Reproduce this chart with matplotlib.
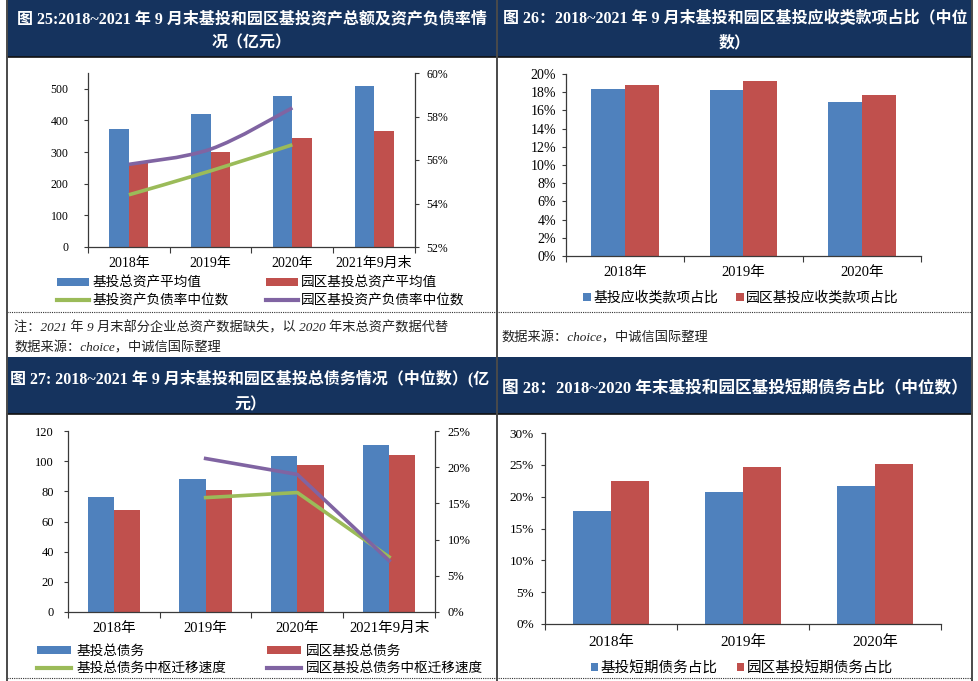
"""Four-panel report page: 基投 vs 园区基投 assets, receivables, debt, short-term debt."""

import numpy as np
import matplotlib

matplotlib.use("Agg")
import matplotlib.pyplot as plt
from matplotlib.patches import Rectangle, Patch, PathPatch
from matplotlib.lines import Line2D
from matplotlib.path import Path
from matplotlib.ticker import FuncFormatter, MultipleLocator

W, H = 979, 681
plt.rcParams["font.family"] = ["Liberation Serif", "Noto Sans CJK SC"]
plt.rcParams["axes.unicode_minus"] = False

NAVY = "#15335E"
BLUE = "#4F81BD"
RED = "#C0504D"
GREEN = "#9BBB59"
PURPLE = "#8064A2"
SPINE = "#3a3a3a"

# ---- data ----
YEARS4 = ["2018年", "2019年", "2020年", "2021年9月末"]
YEARS3 = ["2018年", "2019年", "2020年"]

# fig 25: total assets (亿元) and leverage median (%)
ASSET_JT = [372, 420, 478, 509]
ASSET_YQ = [264, 299, 345, 367]
LEV_JT = [54.4, 55.5, 56.7]
LEV_YQ = [55.8, 56.5, 58.4]

# fig 26: receivables share (%)
RECV_JT = [18.3, 18.2, 16.9]
RECV_YQ = [18.8, 19.2, 17.7]

# fig 27: total debt median (亿元) and median shift speed (%), 2019..2021
DEBT_JT = [76.2, 88.5, 103.3, 111.0]
DEBT_YQ = [67.5, 81.0, 97.3, 104.0]
SPEED_JT = [15.8, 16.5, 7.6]
SPEED_YQ = [21.2, 19.0, 7.1]

# fig 28: short-term debt share (%)
SHORT_JT = [17.7, 20.7, 21.7]
SHORT_YQ = [22.5, 24.7, 25.2]

PCT = FuncFormatter(lambda v, _: f"{v:.0f}%")


def rect(x0, y0, x1, y1):
    """pixel box (top-left origin) -> figure fraction rect"""
    return [x0 / W, 1 - y1 / H, (x1 - x0) / W, (y1 - y0) / H]


def anchor(x, y):
    return (x / W, 1 - y / H)


def smooth_path(xs, ys):
    """Catmull-Rom style Bezier through the points (like Excel smoothed lines)."""
    pts = np.column_stack([xs, ys]).astype(float)
    ext = np.vstack([pts[0], pts, pts[-1]])
    verts, codes = [pts[0]], [Path.MOVETO]
    for i in range(len(pts) - 1):
        p0, p1, p2, p3 = ext[i], ext[i + 1], ext[i + 2], ext[i + 3]
        verts += [p1 + (p2 - p0) / 6, p2 - (p3 - p1) / 6, p2]
        codes += [Path.CURVE4] * 3
    return Path(verts, codes)


def base_axes(fig, box, labels, xfs, xpad, ypad):
    ax = fig.add_axes(rect(*box), zorder=2)
    ax.set_facecolor("none")
    n = len(labels)
    ax.set_xlim(-0.5, n - 0.5)
    ax.set_xticks(np.arange(n + 1) - 0.5)
    ax.set_xticklabels([])
    ax.set_xticks(np.arange(n), minor=True)
    ax.set_xticklabels(labels, minor=True, fontsize=xfs)
    ax.tick_params(axis="x", which="major", direction="out", length=4,
                   width=0.8, color=SPINE)
    ax.tick_params(axis="x", which="minor", length=0, pad=xpad)
    ax.tick_params(axis="y", direction="out", length=3, width=0.8,
                   color=SPINE, pad=ypad)
    for s in ("top", "right"):
        ax.spines[s].set_visible(False)
    for s in ("left", "bottom"):
        ax.spines[s].set_color(SPINE)
        ax.spines[s].set_linewidth(0.9)
    return ax


def bars(ax, a, b, w):
    x = np.arange(len(a))
    ax.bar(x - w / 2, a, w, color=BLUE, linewidth=0)
    ax.bar(x + w / 2, b, w, color=RED, linewidth=0)


def twin(ax, ypad):
    ax2 = ax.twinx()
    ax2.set_zorder(3)
    ax2.set_facecolor("none")
    for s in ("top", "left", "bottom"):
        ax2.spines[s].set_visible(False)
    ax2.spines["right"].set_color(SPINE)
    ax2.spines["right"].set_linewidth(0.9)
    ax2.tick_params(axis="y", direction="out", length=3, width=0.8,
                    color=SPINE, pad=ypad)
    ax2.yaxis.set_major_formatter(PCT)
    return ax2


fig = plt.figure(figsize=(W / 100, H / 100), dpi=100)
fig.patch.set_facecolor("white")

# ---- page frame, title bars and notes ----
bg = fig.add_axes([0, 0, 1, 1], zorder=0)
bg.set_xlim(0, W)
bg.set_ylim(H, 0)
bg.axis("off")
for x0, x1 in [(7, 497), (497, 972)]:
    bg.add_patch(Rectangle((x0, 0), x1 - x0, 57, color=NAVY, lw=0))
    bg.add_patch(Rectangle((x0, 357), x1 - x0, 57, color=NAVY, lw=0))
for y in (57, 414):
    bg.plot([7, 972], [y, y], color="#111111", lw=1.2)
for y in (312, 678):
    bg.plot([7, 972], [y, y], color="#333333", lw=0.8, ls=(0, (1, 1)))
for x in (7, 497, 972):
    bg.plot([x, x], [0, H], color="#4a4a4a", lw=1.4)

title_kw = dict(color="white", fontsize=11.5, fontweight="bold",
                ha="center", va="center")
bg.text(252, 19, "图 25:2018~2021 年 9 月末基投和园区基投资产总额及资产负债率情",
        **title_kw)
bg.text(252, 43, "况（亿元）", **title_kw)
bg.text(735, 19, "图 26：2018~2021 年 9 月末基投和园区基投应收类款项占比（中位",
        **title_kw)
bg.text(735, 43, "数）", **title_kw)
bg.text(250, 379, "图 27: 2018~2021 年 9 月末基投和园区基投总债务情况（中位数）(亿",
        **title_kw)
bg.text(250, 405, "元）", **title_kw)
bg.text(735, 389, "图 28：2018~2020 年末基投和园区基投短期债务占比（中位数）",
        **dict(title_kw, fontsize=12))

note_kw = dict(color="#222222", fontsize=9.5, fontstyle="italic",
               ha="left", va="center")
bg.text(14, 328, "注：2021 年 9 月末部分企业总资产数据缺失，以 2020 年末总资产数据代替",
        **note_kw)
bg.text(14, 348, "数据来源：choice，中诚信国际整理", **note_kw)
bg.text(501, 338, "数据来源：choice，中诚信国际整理", **note_kw)

# ---- fig 25 ----
ax = base_axes(fig, (88, 73, 415, 247), YEARS4, 10, 7, 11)
bars(ax, ASSET_JT, ASSET_YQ, 0.24)
ax.set_ylim(0, 550)
ax.yaxis.set_major_locator(MultipleLocator(100))
ax.tick_params(axis="y", labelsize=8.5)
ax2 = twin(ax, 5)
ax2.set_ylim(52, 60)
ax2.yaxis.set_major_locator(MultipleLocator(2))
ax2.tick_params(axis="y", labelsize=8.5)
for vals, c in [(LEV_JT, GREEN), (LEV_YQ, PURPLE)]:
    ax2.add_patch(PathPatch(smooth_path(np.arange(len(vals)), vals),
                            fill=False, edgecolor=c, lw=2.6))
handles = [Patch(facecolor=BLUE), Line2D([], [], color=GREEN, lw=3),
           Patch(facecolor=RED), Line2D([], [], color=PURPLE, lw=3)]
labels = ["基投总资产平均值", "基投资产负债率中位数",
          "园区基投总资产平均值", "园区基投资产负债率中位数"]
fig.legend(handles, labels, ncol=2, loc="center", bbox_to_anchor=anchor(261, 292),
           frameon=False, fontsize=9.8, handlelength=2.35, handleheight=0.5,
           handletextpad=0.25, columnspacing=2.7, labelspacing=0.35,
           borderpad=0, borderaxespad=0)

# ---- fig 26 ----
ax = base_axes(fig, (566, 74, 921, 256), YEARS3, 10.5, 7, 4)
bars(ax, RECV_JT, RECV_YQ, 0.285)
ax.set_ylim(0, 20)
ax.yaxis.set_major_locator(MultipleLocator(2))
ax.yaxis.set_major_formatter(PCT)
ax.tick_params(axis="y", labelsize=10)
fig.legend([Patch(facecolor=BLUE), Patch(facecolor=RED)],
           ["基投应收类款项占比", "园区基投应收类款项占比"], ncol=2, loc="center",
           bbox_to_anchor=anchor(741, 298), frameon=False, fontsize=10,
           handlelength=0.55, handleheight=0.55, handletextpad=0.15,
           columnspacing=1.3, borderpad=0, borderaxespad=0)

# ---- fig 27 ----
ax = base_axes(fig, (68, 431, 435, 612), YEARS4, 10.5, 7, 7)
bars(ax, DEBT_JT, DEBT_YQ, 0.285)
ax.set_ylim(0, 120)
ax.yaxis.set_major_locator(MultipleLocator(20))
ax.tick_params(axis="y", labelsize=9)
ax2 = twin(ax, 6)
ax2.set_ylim(0, 25)
ax2.yaxis.set_major_locator(MultipleLocator(5))
ax2.tick_params(axis="y", labelsize=9)
xs = np.arange(1, 1 + len(SPEED_JT))
ax2.plot(xs, SPEED_JT, color=GREEN, lw=2.6)
ax2.plot(xs, SPEED_YQ, color=PURPLE, lw=2.6)
handles = [Patch(facecolor=BLUE), Line2D([], [], color=GREEN, lw=3),
           Patch(facecolor=RED), Line2D([], [], color=PURPLE, lw=3)]
labels = ["基投总债务", "基投总债务中枢迁移速度",
          "园区基投总债务", "园区基投总债务中枢迁移速度"]
fig.legend(handles, labels, ncol=2, loc="center", bbox_to_anchor=anchor(260, 660),
           frameon=False, fontsize=9.8, handlelength=2.5, handleheight=0.5,
           handletextpad=0.35, columnspacing=3.0, labelspacing=0.3,
           borderpad=0, borderaxespad=0)

# ---- fig 28 ----
ax = base_axes(fig, (545, 433, 941, 624), YEARS3, 11, 8, 5)
bars(ax, SHORT_JT, SHORT_YQ, 0.285)
ax.set_ylim(0, 30)
ax.yaxis.set_major_locator(MultipleLocator(5))
ax.yaxis.set_major_formatter(PCT)
ax.tick_params(axis="y", labelsize=9.5)
fig.legend([Patch(facecolor=BLUE), Patch(facecolor=RED)],
           ["基投短期债务占比", "园区基投短期债务占比"], ncol=2, loc="center",
           bbox_to_anchor=anchor(742, 668), frameon=False, fontsize=10.5,
           handlelength=0.5, handleheight=0.5, handletextpad=0.2,
           columnspacing=1.3, borderpad=0, borderaxespad=0)

fig.savefig("out.png", dpi=100, facecolor="white")
